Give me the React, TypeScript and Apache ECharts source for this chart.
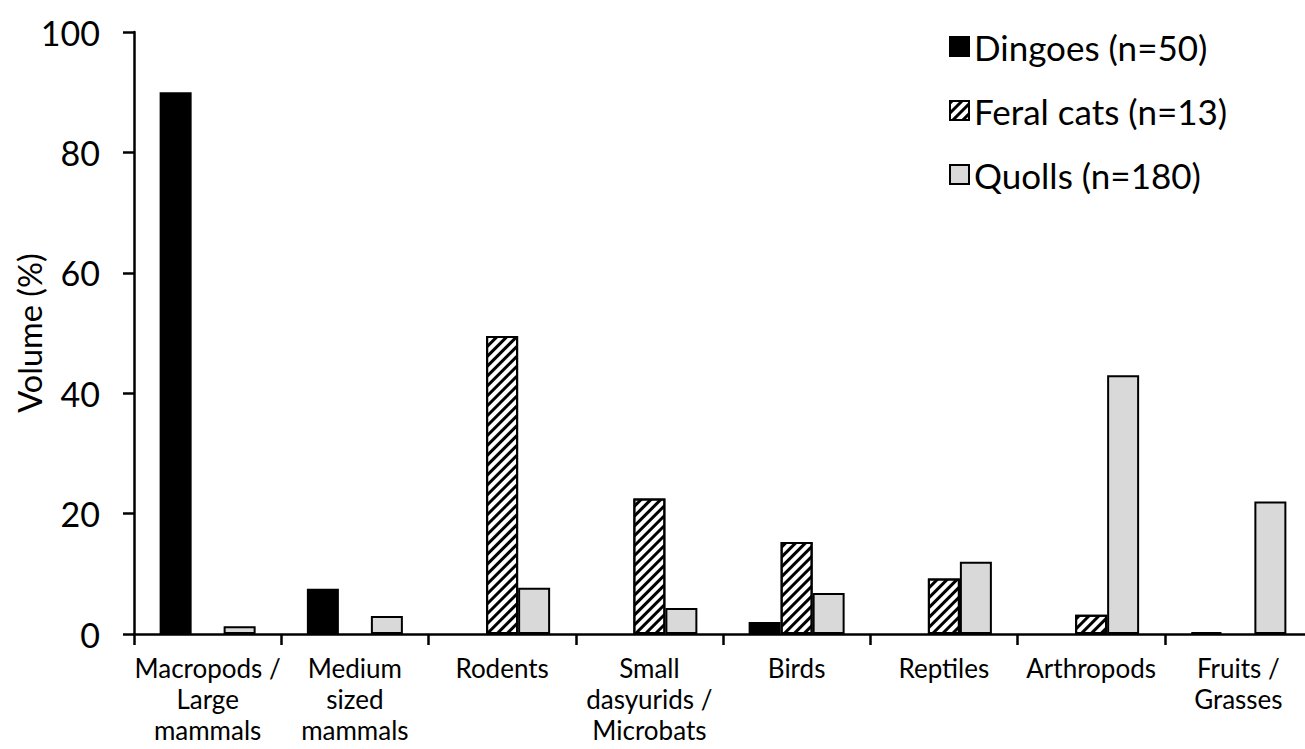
import React, { useEffect, useRef } from "react";
import * as echarts from "echarts";

const categories = [
  "Macropods /\nLarge\nmammals",
  "Medium\nsized\nmammals",
  "Rodents",
  "Small\ndasyurids /\nMicrobats",
  "Birds",
  "Reptiles",
  "Arthropods",
  "Fruits /\nGrasses",
];
const dingoes = [90, 7.5, null, null, 2, null, null, 0.3];
const feralCats = [null, null, 49.5, 22.5, 15.3, 9.2, 3.2, null];
const quolls = [1.3, 3, 7.7, 4.3, 6.8, 12, 43, 22];
const yTicks = { min: 0, max: 100, interval: 20 };

const FONT = "Lato";

export default function App() {
  const ref = useRef<HTMLDivElement>(null);
  useEffect(() => {
    if (!ref.current) return;
    const chart = echarts.init(ref.current, undefined, { renderer: "svg" });
    const barBorder = { borderColor: "#000", borderWidth: 2 };
    chart.setOption({
      animation: false,
      backgroundColor: "#fff",
      textStyle: { fontFamily: FONT, color: "#000" },
      grid: {
        left: 134,
        top: 32,
        width: 1178,
        bottom: 115,
        containLabel: false,
        outerBoundsMode: "none",
      },
      legend: {
        orient: "vertical",
        left: 949,
        top: 29,
        padding: 0,
        icon: "rect",
        itemWidth: 19,
        itemHeight: 19,
        itemGap: 29,
        textStyle: { fontFamily: FONT, fontSize: 35, color: "#000" },
        data: ["Dingoes (n=50)", "Feral cats (n=13)", "Quolls (n=180)"],
      },
      xAxis: {
        type: "category",
        data: categories,
        axisLine: { lineStyle: { color: "#000", width: 2.5 } },
        axisTick: { show: true, length: 11, lineStyle: { color: "#000", width: 2.5 } },
        axisLabel: {
          interval: 0,
          margin: 18,
          fontFamily: FONT,
          fontSize: 26,
          lineHeight: 31,
          color: "#000",
        },
      },
      yAxis: {
        type: "value",
        min: yTicks.min,
        max: yTicks.max,
        interval: yTicks.interval,
        name: "Volume (%)",
        nameLocation: "middle",
        nameGap: 88,
        nameMoveOverlap: false,
        nameTextStyle: { fontFamily: FONT, fontSize: 32.5, color: "#000" },
        axisLine: { show: true, lineStyle: { color: "#000", width: 2.5 } },
        axisTick: { show: true, length: 11, lineStyle: { color: "#000", width: 2.5 } },
        splitLine: { show: false },
        axisLabel: { margin: 34, fontFamily: FONT, fontSize: 34, color: "#000" },
      },
      series: [
        {
          name: "Dingoes (n=50)",
          type: "bar",
          data: dingoes,
          barWidth: 32,
          barGap: "0%",
          itemStyle: { color: "#000", ...barBorder },
        },
        {
          name: "Feral cats (n=13)",
          type: "bar",
          data: feralCats,
          barWidth: 32,
          barGap: "0%",
          itemStyle: {
            color: "#fff",
            ...barBorder,
            decal: {
              symbol: "rect",
              symbolSize: 1,
              dashArrayX: [1, 0],
              dashArrayY: [2.5, 3.5],
              rotation: -Math.PI / 4,
              color: "#000",
            },
          },
        },
        {
          name: "Quolls (n=180)",
          type: "bar",
          data: quolls,
          barWidth: 32,
          barGap: "0%",
          itemStyle: { color: "#d9d9d9", ...barBorder },
        },
      ],
    });
    return () => chart.dispose();
  }, []);
  return (
    <div
      ref={ref}
      style={{ position: "fixed", left: 0, top: 0, width: 1305, height: 749, background: "#fff" }}
    />
  );
}
